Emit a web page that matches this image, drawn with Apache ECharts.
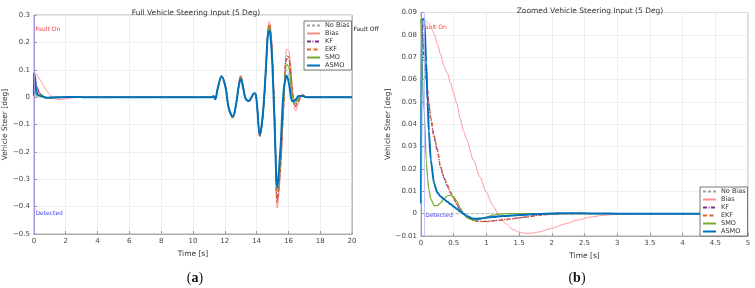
<!DOCTYPE html>
<html>
<head>
<meta charset="utf-8">
<script src="https://cdn.jsdelivr.net/npm/echarts@6/dist/echarts.min.js"></script>
<style>
  html, body { margin: 0; padding: 0; background: #fff; }
  #main { width: 755px; height: 288px; }
</style>
</head>
<body>
<div id="main"></div>
<script>
// series names, in legend order
const names = ['No Bias', 'Bias', 'KF', 'EKF', 'SMO', 'ASMO'];

// start-up transient after the fault (0 - 5 s), also shown in the zoomed plot
const tEarly = [0, 0.01, 0.05, 0.08, 0.1, 0.12, 0.15, 0.2, 0.25, 0.3, 0.35, 0.4, 0.45, 0.5, 0.55, 0.6, 0.65, 0.7,
    0.8, 0.9, 1.0, 1.1, 1.2, 1.3, 1.4, 1.5, 1.6, 1.7, 1.8, 2.0, 2.2, 2.4, 2.6, 2.8, 3.0, 3.5, 4.0, 5.0];
const noBiasEarly = tEarly.map(() => 0);
const biasEarly = [0.0875, 0.0875, 0.087, 0.086, 0.0855, 0.085, 0.0835, 0.0805, 0.076, 0.0712, 0.066, 0.063, 0.0585,
    0.054, 0.049, 0.0425, 0.037, 0.033, 0.024, 0.0165, 0.0095, 0.0035, -0.0012, -0.0045, -0.007, -0.0083, -0.0088,
    -0.0087, -0.0082, -0.0066, -0.0046, -0.0028, -0.0015, -0.0007, -0.0002, 0, 0, 0];
const kfEarly = [0.087, 0.085, 0.068, 0.06, 0.053, 0.048, 0.042, 0.034, 0.028, 0.0205, 0.016, 0.0125, 0.0095, 0.0068,
    0.004, 0.0016, -0.0003, -0.0017, -0.003, -0.0034, -0.0035, -0.0032, -0.0029, -0.0026, -0.0022, -0.0019, -0.0015,
    -0.0011, -0.0007, -0.0002, 0, 0, 0, 0, 0, 0, 0, 0];
const ekfEarly = [0.087, 0.086, 0.072, 0.064, 0.056, 0.05, 0.043, 0.035, 0.029, 0.021, 0.0165, 0.013, 0.0098, 0.007,
    0.0042, 0.0018, -0.0002, -0.0016, -0.003, -0.0035, -0.0036, -0.0033, -0.003, -0.0027, -0.0023, -0.0019, -0.0015,
    -0.0011, -0.0007, -0.0002, 0, 0, 0, 0, 0, 0, 0, 0];
const smoEarly = [0.087, 0.087, 0.045, 0.024, 0.016, 0.011, 0.0065, 0.0036, 0.0036, 0.0048, 0.0066, 0.0079, 0.0083,
    0.0075, 0.0055, 0.0025, 0.0, -0.0018, -0.0029, -0.0026, -0.0015, -0.0007, -0.0002, 0, 0, 0, 0, 0, 0, 0, 0, 0,
    0, 0, 0, 0, 0, 0];
const asmoEarly = [0.0046, 0.087, 0.087, 0.068, 0.05, 0.037, 0.024, 0.0135, 0.0095, 0.0077, 0.0065, 0.0054, 0.0043,
    0.0032, 0.0021, 0.001, 0.0, -0.001, -0.0023, -0.0022, -0.0018, -0.0015, -0.0012, -0.001, -0.0008, -0.0006,
    -0.0005, -0.0003, -0.0002, 0.0001, 0.0002, 0.0002, 0.0001, 0.0001, 0, 0, 0, 0];

// steering manoeuvre (10 - 20 s)
const tMan = [10, 11.2, 11.3, 11.4, 11.55, 11.8, 12.05, 12.25, 12.5, 12.7, 12.85, 13.0, 13.15, 13.3, 13.5, 13.65,
    13.85, 13.95, 14.05, 14.2, 14.4, 14.6, 14.7, 14.8, 14.9, 15.0, 15.15, 15.3, 15.5, 15.7, 15.9, 16.05, 16.25,
    16.45, 16.65, 16.9, 17.1, 17.5, 20];
const noBiasMan = [0, 0, 0.004, -0.008, 0.03, 0.076, 0.036, -0.04, -0.072, -0.03, 0.03, 0.068, 0.036, -0.004, -0.014,
    -0.004, 0.014, 0.01, -0.045, -0.138, -0.062, 0.118, 0.225, 0.25, 0.215, 0.12, -0.12, -0.34, -0.21, 0.0, 0.1,
    0.07, -0.01, -0.015, 0.0, 0.005, 0, 0, 0];
const biasMan = [0, 0, 0.004, -0.008, 0.03, 0.078, 0.04, -0.04, -0.076, -0.035, 0.03, 0.08, 0.045, -0.002, -0.016,
    -0.006, 0.014, 0.01, -0.045, -0.145, -0.07, 0.11, 0.235, 0.277, 0.245, 0.15, -0.09, -0.405, -0.28, -0.04, 0.175,
    0.165, 0.04, -0.05, -0.02, 0.01, 0.002, 0, 0];
const kfMan = [0, 0, 0.004, -0.008, 0.03, 0.077, 0.038, -0.04, -0.075, -0.033, 0.03, 0.076, 0.042, -0.003, -0.015,
    -0.005, 0.014, 0.01, -0.045, -0.142, -0.066, 0.114, 0.228, 0.262, 0.232, 0.135, -0.1, -0.375, -0.25, -0.03,
    0.14, 0.135, 0.02, -0.03, -0.012, 0.007, 0.001, 0, 0];
const ekfMan = [0, 0, 0.004, -0.008, 0.03, 0.077, 0.039, -0.04, -0.075, -0.034, 0.03, 0.078, 0.043, -0.003, -0.015,
    -0.005, 0.014, 0.01, -0.045, -0.143, -0.067, 0.113, 0.23, 0.268, 0.238, 0.14, -0.095, -0.385, -0.26, -0.035,
    0.15, 0.145, 0.025, -0.035, -0.015, 0.008, 0.001, 0, 0];
const smoMan = [0, 0, 0.004, -0.008, 0.03, 0.076, 0.036, -0.04, -0.073, -0.031, 0.03, 0.071, 0.038, -0.004, -0.014,
    -0.004, 0.014, 0.01, -0.045, -0.14, -0.063, 0.117, 0.228, 0.255, 0.222, 0.125, -0.11, -0.345, -0.22, -0.01,
    0.12, 0.105, 0.0, -0.022, -0.004, 0.006, 0, 0, 0];
const asmoMan = [0, 0, 0.004, -0.008, 0.03, 0.075, 0.035, -0.04, -0.071, -0.03, 0.03, 0.066, 0.035, -0.004, -0.014,
    -0.004, 0.014, 0.01, -0.045, -0.137, -0.06, 0.12, 0.222, 0.243, 0.205, 0.11, -0.13, -0.33, -0.19, 0.02, 0.078,
    0.045, -0.015, -0.01, 0.004, 0.004, 0, 0, 0];

// event times [s]
const faultOn = 0;
const detected = 0.05;
const faultOff = 20;

const earlyData = [noBiasEarly, biasEarly, kfEarly, ekfEarly, smoEarly, asmoEarly];
const manData = [noBiasMan, biasMan, kfMan, ekfMan, smoMan, asmoMan];

const styles = [
    {color: '#a0a0a0', width: 0.8, type: [3, 2]},
    {color: '#ff8c8c', width: 0.9, type: 'solid'},
    {color: '#7e2f8e', width: 1.2, type: [4, 1.5, 1, 1.5]},
    {color: '#e0642a', width: 1.3, type: [4, 2.5]},
    {color: '#77ac30', width: 1.2, type: 'solid'},
    {color: '#0072bd', width: 2, type: 'solid'}
];

const font = 'DejaVu Sans';
const minus = (s) => s.replace('-', '\u2212');

const pairs = (ts, vs) => ts.map((t, i) => [t, vs[i]]);

const series = [];
names.forEach((name, k) => {
    const lineStyle = styles[k];
    series.push({
        name: name,
        type: 'line',
        xAxisIndex: 0,
        yAxisIndex: 0,
        symbol: 'none',
        showSymbol: false,
        smooth: 0.35,
        lineStyle: lineStyle,
        itemStyle: {color: lineStyle.color},
        data: pairs(tEarly, earlyData[k]).concat(pairs(tMan, manData[k]))
    });
});
names.forEach((name, k) => {
    const lineStyle = styles[k];
    series.push({
        name: name,
        type: 'line',
        xAxisIndex: 1,
        yAxisIndex: 1,
        symbol: 'none',
        showSymbol: false,
        smooth: 0.25,
        smoothMonotone: 'x',
        lineStyle: lineStyle,
        itemStyle: {color: lineStyle.color},
        data: pairs(tEarly, earlyData[k])
    });
});

// event lines, hung on the "No Bias" series so they sit under the estimates
const eventLine = (color, x) => ({xAxis: x, lineStyle: {color: color, width: 0.8, type: 'solid'}});
series[0].markLine = {
    silent: true, symbol: 'none', label: {show: false}, animation: false,
    data: [eventLine('#ff7070', faultOn), eventLine('#9a9aff', detected), eventLine('#b0b0b0', faultOff)]
};
series[6].markLine = {
    silent: true, symbol: 'none', label: {show: false}, animation: false,
    data: [eventLine('#ff7070', faultOn), eventLine('#b8b8ff', detected)]
};

const axisCommon = {
    axisLine: {show: true, onZero: false, lineStyle: {color: '#9a9a9a', width: 0.8}},
    axisTick: {show: true, inside: true, length: 3, lineStyle: {color: '#9a9a9a'}},
    splitLine: {show: true, lineStyle: {color: '#ebebeb', width: 0.8}},
    axisLabel: {fontFamily: font, fontSize: 7, color: '#444', margin: 4}
};

const legendCommon = {
    orient: 'vertical',
    data: names,
    itemWidth: 13,
    itemHeight: 6,
    itemGap: 1,
    padding: [1, 2, 1, 2],
    borderColor: '#555',
    borderWidth: 0.8,
    backgroundColor: '#fff',
    itemStyle: {opacity: 0},
    textStyle: {fontFamily: font, fontSize: 6.5, color: '#333', lineHeight: 7},
    selectedMode: false
};

const option = {
    animation: false,
    backgroundColor: '#fff',
    title: [
        {text: 'Full Vehicle Steering Input (5 Deg)', left: 191, top: 4, textAlign: 'center',
            textStyle: {fontFamily: font, fontSize: 7.5, fontWeight: 'normal', color: '#333'}},
        {text: 'Zoomed Vehicle Steering Input (5 Deg)', left: 585, top: 2, textAlign: 'center',
            textStyle: {fontFamily: font, fontSize: 7.5, fontWeight: 'normal', color: '#333'}},
        {text: '({b|a})', left: 190, top: 266, textAlign: 'center',
            textStyle: {fontFamily: 'Liberation Serif', fontSize: 14, fontWeight: 'normal', color: '#111',
                rich: {b: {fontFamily: 'Liberation Serif', fontSize: 14, fontWeight: 'bold', color: '#111'}}}},
        {text: '({b|b})', left: 572, top: 266, textAlign: 'center',
            textStyle: {fontFamily: 'Liberation Serif', fontSize: 14, fontWeight: 'normal', color: '#111',
                rich: {b: {fontFamily: 'Liberation Serif', fontSize: 14, fontWeight: 'bold', color: '#111'}}}}
    ],
    legend: [
        Object.assign({left: 304, top: 21}, legendCommon),
        Object.assign({left: 700, top: 187}, legendCommon)
    ],
    grid: [
        {left: 31, top: 15, width: 321, height: 219, show: true, borderColor: '#9a9a9a', borderWidth: 0.8},
        {left: 421, top: 12.5, width: 327, height: 223.5, show: true, borderColor: '#9a9a9a', borderWidth: 0.8}
    ],
    xAxis: [
        Object.assign({}, axisCommon, {
            gridIndex: 0, type: 'value', min: 0, max: 20, interval: 2,
            name: 'Time [s]', nameLocation: 'middle', nameGap: 14,
            nameTextStyle: {fontFamily: font, fontSize: 7.5, color: '#333'}
        }),
        Object.assign({}, axisCommon, {
            gridIndex: 1, type: 'value', min: 0, max: 5, interval: 0.5,
            name: 'Time [s]', nameLocation: 'middle', nameGap: 14,
            nameTextStyle: {fontFamily: font, fontSize: 7.5, color: '#333'}
        })
    ],
    yAxis: [
        Object.assign({}, axisCommon, {
            gridIndex: 0, type: 'value', min: -0.5, max: 0.3, interval: 0.1,
            axisLabel: Object.assign({}, axisCommon.axisLabel, {
                formatter: (v) => Math.abs(v) < 1e-9 ? '0' : minus(String(+v.toFixed(2)))
            }),
            name: 'Vehicle Steer [deg]', nameLocation: 'middle', nameGap: 20,
            nameTextStyle: {fontFamily: font, fontSize: 7.5, color: '#333'}
        }),
        Object.assign({}, axisCommon, {
            gridIndex: 1, type: 'value', min: -0.01, max: 0.09, interval: 0.01,
            axisLabel: Object.assign({}, axisCommon.axisLabel, {
                formatter: (v) => Math.abs(v) < 1e-9 ? '0' : minus(String(+v.toFixed(3)))
            }),
            name: 'Vehicle Steer [deg]', nameLocation: 'middle', nameGap: 25,
            nameTextStyle: {fontFamily: font, fontSize: 7.5, color: '#333'}
        })
    ],
    series: series
};

const chart = echarts.init(document.getElementById('main'), null, {renderer: 'canvas'});
chart.setOption(option);

// event labels, placed through the axes
const px = (g, v) => chart.convertToPixel({gridIndex: g}, v);
const label = (g, x, y, text, color, dx) => {
    const p = px(g, [x, y]);
    return {
        type: 'text', x: p[0] + dx, y: p[1], silent: true,
        style: {text: text, fill: color, font: '6px "DejaVu Sans"', textVerticalAlign: 'middle'}
    };
};
chart.setOption({
    graphic: [
        label(0, faultOn, 0.249, 'Fault On', '#ff3b3b', 1.5),
        label(0, faultOff, 0.249, 'Fault Off', '#222', 1.5),
        label(0, faultOn, -0.425, 'Detected', '#4a4aff', 1.5),
        label(1, faultOn, 0.0835, 'Fault On', '#ff3b3b', 1),
        label(1, detected, -0.0008, 'Detected', '#4a4aff', 1)
    ]
});
</script>
</body>
</html>
